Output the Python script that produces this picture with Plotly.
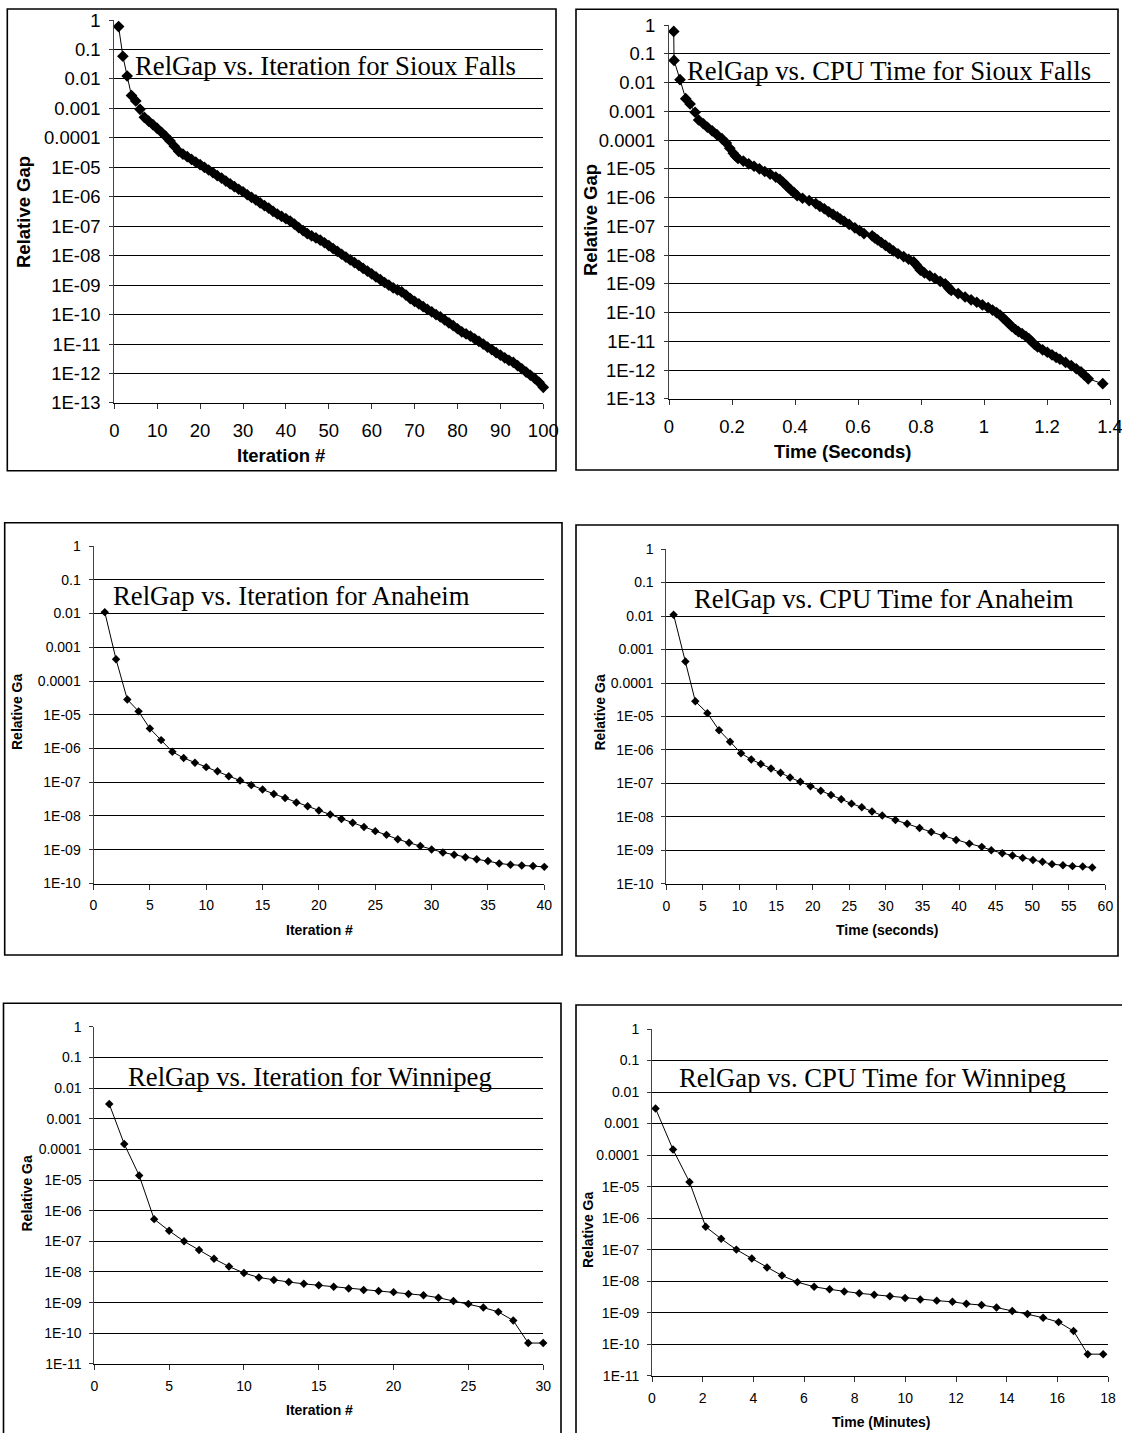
import plotly.graph_objects as go

# ---------------- data ----------------
sf_iter = list(range(1, 101))
sf_gap = [0.60, 0.059, 0.0126, 0.00275, 0.0018, 0.00093, 0.0005, 3.7e-4, 2.8e-4, 2.1e-4,
          1.55e-4, 1.12e-4, 7.9e-5, 5.2e-5, 3.5e-5, 2.8e-5, 2.3e-5, 1.86e-5, 1.5e-5, 1.23e-5,
          1.0e-5, 8.1e-6, 6.6e-6, 5.2e-6, 4.3e-6, 3.4e-6, 2.75e-6, 2.2e-6, 1.8e-6, 1.48e-6,
          1.17e-6, 9.5e-7, 7.8e-7, 6.2e-7, 5.0e-7, 4.1e-7, 3.2e-7, 2.6e-7, 2.15e-7, 1.8e-7,
          1.5e-7, 1.17e-7, 8.9e-8, 7.1e-8, 5.6e-8, 4.7e-8, 4.0e-8, 3.4e-8, 2.75e-8, 2.2e-8,
          1.74e-8, 1.41e-8, 1.12e-8, 8.9e-9, 7.2e-9, 5.8e-9, 4.7e-9, 3.7e-9, 3.0e-9, 2.4e-9,
          1.9e-9, 1.55e-9, 1.23e-9, 1.0e-9, 8.1e-10, 6.9e-10, 5.9e-10, 4.6e-10, 3.5e-10, 2.8e-10,
          2.3e-10, 1.86e-10, 1.5e-10, 1.23e-10, 1.0e-10, 8.3e-11, 6.6e-11, 5.2e-11, 4.2e-11, 3.3e-11,
          2.6e-11, 2.2e-11, 1.86e-11, 1.5e-11, 1.23e-11, 1.0e-11, 7.9e-12, 6.5e-12, 5.1e-12, 4.2e-12,
          3.4e-12, 2.8e-12, 2.4e-12, 1.86e-12, 1.45e-12, 1.12e-12, 8.7e-13, 6.8e-13, 5.0e-13, 3.4e-13]
sf_time = [0.015, 0.016, 0.035, 0.053, 0.067, 0.083, 0.094, 0.109, 0.122, 0.137,
           0.152, 0.168, 0.182, 0.193, 0.204, 0.211, 0.219, 0.236, 0.253, 0.270,
           0.287, 0.304, 0.321, 0.339, 0.352, 0.362, 0.371, 0.379, 0.388, 0.397,
           0.407, 0.424, 0.445, 0.466, 0.479, 0.493, 0.507, 0.521, 0.534, 0.544,
           0.556, 0.572, 0.590, 0.605, 0.619, 0.645, 0.653, 0.662, 0.674, 0.687,
           0.700, 0.712, 0.727, 0.745, 0.761, 0.777, 0.784, 0.792, 0.798, 0.811,
           0.828, 0.844, 0.861, 0.877, 0.885, 0.889, 0.896, 0.918, 0.940, 0.959,
           0.977, 0.995, 1.013, 1.027, 1.040, 1.051, 1.060, 1.070, 1.079, 1.088,
           1.100, 1.109, 1.121, 1.133, 1.143, 1.151, 1.160, 1.170, 1.186, 1.201,
           1.216, 1.229, 1.241, 1.259, 1.277, 1.293, 1.308, 1.318, 1.331, 1.377]

an_iter = list(range(1, 41))
an_gap = [1.1e-2, 4.4e-4, 2.85e-5, 1.26e-5, 3.9e-6, 1.77e-6, 8.0e-7, 5.2e-7, 3.8e-7, 2.8e-7,
          2.1e-7, 1.5e-7, 1.13e-7, 8.2e-8, 6.1e-8, 4.5e-8, 3.4e-8, 2.5e-8, 1.95e-8, 1.45e-8,
          1.1e-8, 8.1e-9, 6.3e-9, 4.7e-9, 3.55e-9, 2.75e-9, 2.05e-9, 1.6e-9, 1.28e-9, 1.02e-9,
          8.3e-10, 7.1e-10, 6.0e-10, 5.2e-10, 4.6e-10, 3.9e-10, 3.6e-10, 3.4e-10, 3.3e-10, 3.1e-10]
an_time = [0.98, 2.6, 3.95, 5.6, 7.2, 8.7, 10.2, 11.6, 12.9, 14.3,
           15.6, 16.9, 18.3, 19.7, 21.1, 22.5, 23.9, 25.3, 26.7, 28.1,
           29.5, 31.3, 32.9, 34.6, 36.2, 37.9, 39.6, 41.4, 43.1, 44.4,
           45.9, 47.3, 48.7, 50.1, 51.4, 52.7, 54.2, 55.5, 56.9, 58.2]

wp_iter = list(range(1, 31))
wp_gap = [3.0e-3, 1.5e-4, 1.4e-5, 5.3e-7, 2.2e-7, 1.0e-7, 5.2e-8, 2.7e-8, 1.5e-8, 9.3e-9,
          6.6e-9, 5.5e-9, 4.7e-9, 4.1e-9, 3.7e-9, 3.3e-9, 2.9e-9, 2.6e-9, 2.4e-9, 2.2e-9,
          1.9e-9, 1.74e-9, 1.45e-9, 1.13e-9, 9.1e-10, 6.9e-10, 5.0e-10, 2.6e-10, 4.8e-11, 4.8e-11]
wp_time = [0.14, 0.83, 1.48, 2.12, 2.73, 3.33, 3.94, 4.54, 5.13, 5.74,
           6.40, 7.01, 7.59, 8.18, 8.77, 9.39, 9.99, 10.59, 11.24, 11.86,
           12.41, 13.01, 13.60, 14.22, 14.82, 15.44, 16.05, 16.64, 17.20, 17.81]

gap_tick_vals = [1, 0.1, 0.01, 0.001, 0.0001, 1e-5, 1e-6, 1e-7, 1e-8, 1e-9,
                 1e-10, 1e-11, 1e-12, 1e-13]
gap_tick_text = ["1", "0.1", "0.01", "0.001", "0.0001", "1E-05", "1E-06", "1E-07",
                 "1E-08", "1E-09", "1E-10", "1E-11", "1E-12", "1E-13"]

titles = ["RelGap vs. Iteration for Sioux Falls", "RelGap vs. CPU Time for Sioux Falls",
          "RelGap vs. Iteration for Anaheim", "RelGap vs. CPU Time for Anaheim",
          "RelGap vs. Iteration for Winnipeg", "RelGap vs. CPU Time for Winnipeg"]
x_titles = ["Iteration #", "Time (Seconds)", "Iteration #", "Time (seconds)",
            "Iteration #", "Time (Minutes)"]
y_titles = ["Relative Gap", "Relative Gap", "Relative Ga", "Relative Ga",
            "Relative Ga", "Relative Ga"]

# ---------------- layout geometry (pixels) ----------------
W, H = 1122, 1433


def fx(p):
    return p / W


def fy(p):
    return 1 - p / H


panels = [
    dict(x=sf_iter, y=sf_gap, px=(114.3, 543.3), py=(20, 403), xr=(0, 100.0001), dt=10, ndec=13,
         box=(7.3, 9, 556, 470.7), ms=9, fs=18.5, tfs=18.5,
         title=(133, 65.5), xt=(281, 455), yt=(23, 212)),
    dict(x=sf_time, y=sf_gap, px=(669, 1110), py=(25, 399), xr=(0, 1.40001), dt=0.2, ndec=13,
         box=(576, 9.3, 1118, 470), ms=9, fs=18.5, tfs=18.5,
         title=(684.7, 71.4), xt=(842, 451.7), yt=(591, 220)),
    dict(x=an_iter, y=an_gap, px=(93.5, 544.3), py=(546, 883.5), xr=(0, 40.0001), dt=5, ndec=10,
         box=(4.7, 522.7, 562, 955), ms=6.5, fs=14, tfs=14,
         title=(110.5, 596), xt=(319, 930), yt=(17, 712)),
    dict(x=an_time, y=an_gap, px=(666.4, 1105.4), py=(549, 884), xr=(0, 60.0001), dt=5, ndec=10,
         box=(576, 525, 1118, 956), ms=6.5, fs=14, tfs=14,
         title=(692, 599), xt=(887, 930), yt=(599.6, 713)),
    dict(x=wp_iter, y=wp_gap, px=(94.3, 543.2), py=(1026.7, 1364), xr=(0, 30.0001), dt=5, ndec=11,
         box=(3.5, 1003.3, 561, 1445), ms=6.5, fs=14, tfs=14,
         title=(126.3, 1076.5), xt=(319.6, 1410), yt=(26, 1193.5)),
    dict(x=wp_time, y=wp_gap, px=(652, 1108), py=(1029, 1375.7), xr=(0, 18.0001), dt=2, ndec=11,
         box=(576, 1005, 1130, 1445), ms=6.5, fs=14, tfs=14,
         title=(676.6, 1078), xt=(881, 1421.7), yt=(588, 1230)),
]

fig = go.Figure()
shapes = []
annotations = []
layout_axes = {}

for i, p in enumerate(panels):
    k = "" if i == 0 else str(i + 1)
    fig.add_trace(go.Scatter(
        x=p["x"], y=p["y"], mode="lines+markers",
        line=dict(color="black", width=1),
        marker=dict(symbol="diamond", size=p["ms"], color="black"),
        xaxis="x" + k, yaxis="y" + k, showlegend=False, cliponaxis=False,
        hoverinfo="skip",
    ))
    nd = p["ndec"]
    layout_axes["xaxis" + k] = dict(
        domain=[fx(p["px"][0]), fx(p["px"][1])], anchor="y" + k,
        range=list(p["xr"]), dtick=p["dt"], tick0=0, tickmode="linear",
        showgrid=False, zeroline=False, showline=True, linecolor="black", linewidth=1,
        ticks="outside", ticklen=5, tickcolor="#333", tickwidth=1,
        tickfont=dict(family="Liberation Sans, Arial", size=p["fs"], color="black"),
        ticklabelstandoff=6 if p["fs"] > 16 else 4,
        ticklabeloverflow="allow",
    )
    layout_axes["yaxis" + k] = dict(
        domain=[fy(p["py"][1]), fy(p["py"][0])], anchor="x" + k, type="log",
        range=[-nd - 0.002, 0.002],
        tickmode="array", tickvals=gap_tick_vals[:nd + 1], ticktext=gap_tick_text[:nd + 1],
        showgrid=True, gridcolor="black", gridwidth=1,
        zeroline=False, showline=True, linecolor="#444", linewidth=1,
        ticks="outside", ticklen=4, tickcolor="#333", tickwidth=1,
        tickfont=dict(family="Liberation Sans, Arial", size=p["fs"], color="black"),
        ticklabelstandoff=5,
        ticklabeloverflow="allow",
    )
    bx0, by0, bx1, by1 = p["box"]
    shapes.append(dict(type="rect", xref="paper", yref="paper",
                       x0=fx(bx0), x1=fx(bx1), y0=fy(by1), y1=fy(by0),
                       line=dict(color="black", width=1.6), fillcolor="rgba(0,0,0,0)"))
    annotations.append(dict(text=titles[i], xref="paper", yref="paper",
                            x=fx(p["title"][0]), y=fy(p["title"][1]),
                            xanchor="left", yanchor="middle", showarrow=False,
                            font=dict(family="Liberation Serif, Times New Roman", size=26.7,
                                      color="black")))
    annotations.append(dict(text="<b>" + x_titles[i] + "</b>", xref="paper", yref="paper",
                            x=fx(p["xt"][0]), y=fy(p["xt"][1]),
                            xanchor="center", yanchor="middle", showarrow=False,
                            font=dict(family="Liberation Sans, Arial", size=p["tfs"],
                                      color="black")))
    annotations.append(dict(text="<b>" + y_titles[i] + "</b>", xref="paper", yref="paper",
                            x=fx(p["yt"][0]), y=fy(p["yt"][1]), textangle=-90,
                            xanchor="center", yanchor="middle", showarrow=False,
                            font=dict(family="Liberation Sans, Arial", size=p["tfs"],
                                      color="black")))

fig.update_layout(
    width=W, height=H, margin=dict(l=0, r=0, t=0, b=0),
    paper_bgcolor="white", plot_bgcolor="white", template="none",
    shapes=shapes, annotations=annotations, showlegend=False, hovermode=False,
    **layout_axes,
)

fig.write_html("out.html",
               config={"displayModeBar": False},
               post_script="document.body.style.margin='0px';"
                           "document.body.style.overflow='hidden';")
